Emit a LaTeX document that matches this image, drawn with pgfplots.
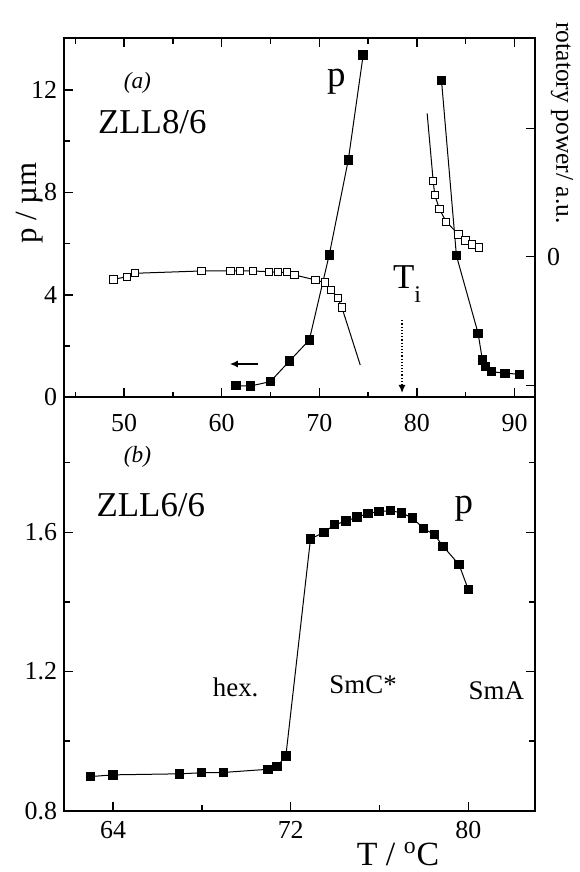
\documentclass[border=0pt]{standalone}
\usepackage{fontspec}
\setmainfont{Liberation Serif}
\usepackage{pgfplots}
\pgfplotsset{compat=1.18}
\usetikzlibrary{arrows.meta}

\begin{document}
\begin{tikzpicture}
\pgfplotsset{
  panel/.style={
    scale only axis, width=235.5bp,
    axis line style={line width=1bp},
    every tick/.style={line width=0.7bp, black},
    major tick length=4.5bp, minor tick length=2.8bp,
    tick align=inside,
    /pgf/number format/assume math mode=true,
    tick label style={font=\fontsize{13}{13}\selectfont},
    clip=false,
  },
  pf/.style={black, line width=0.5bp, mark=square*, mark size=2.1bp, mark options={solid}},
  po/.style={only marks, mark=square*, mark size=1.85bp, mark options={solid, draw=black, fill=white, line width=0.5bp}},
  pl/.style={black, line width=0.5bp, no marks},
}

% ---- (a) ZLL8/6: pitch, left axis
\begin{axis}[panel, at={(32bp,237.35bp)}, anchor=south west, height=179.65bp,
  xmin=43.85, xmax=92.1, ymin=0, ymax=14.03,
  xtick={50,60,70,80,90}, minor xtick={45,55,65,75,85},
  ytick={0,4,8,12}, minor ytick={2,6,10},
  ytick pos=left, xticklabel style={yshift=-5bp}]
\addplot[pf] coordinates {
  (61.46,0.45)(62.94,0.44)(64.98,0.61)(66.96,1.42)(68.98,2.24)
  (71.02,5.56)(72.97,9.26)(74.50,13.37)};
\addplot[pf] coordinates {
  (82.52,12.38)(84.05,5.53)(86.27,2.50)(86.71,1.46)(87.05,1.20)
  (87.64,1.00)(89.04,0.94)(90.50,0.90)};
\node[font=\fontsize{11.7}{12}\selectfont\itshape] at (axis cs:51.37,12.28) {(a)};
\node[anchor=base, font=\fontsize{17.5}{18}\selectfont] at (axis cs:52.9,10.31) {ZLL8/6};
\node[anchor=base, font=\fontsize{18.5}{19}\selectfont] at (axis cs:71.74,12.14) {p};
\node[anchor=base west, font=\fontsize{17.5}{18}\selectfont, inner sep=0pt] at (axis cs:77.53,4.26)
  {T\raisebox{-7bp}{\fontsize{12}{12}\selectfont i}};
\draw[densely dotted, line width=0.6bp, -{Latex[length=4bp,width=3.5bp]}] (axis cs:78.48,3.01) -- (axis cs:78.48,0.17);
\draw[line width=0.7bp, -{Latex[length=4bp,width=3.5bp]}] (axis cs:63.72,1.30) -- (axis cs:60.84,1.30);
\end{axis}

% ---- (a) rotatory power, right axis
\begin{axis}[panel, at={(32bp,237.35bp)}, anchor=south west, height=179.65bp,
  xmin=43.85, xmax=92.1, ymin=-1.094, ymax=1.702,
  xtick=\empty, ytick={-1,0,1}, yticklabels={{},0,{}},
  ytick pos=right, yticklabel pos=right, yticklabel style={xshift=2.5bp}]
\addplot[pl] coordinates {
  (48.92,-0.176)(50.28,-0.156)(51.10,-0.129)(57.92,-0.111)(60.89,-0.111)
  (61.91,-0.111)(63.20,-0.111)(64.84,-0.117)(65.76,-0.121)(66.70,-0.121)
  (67.47,-0.142)(69.62,-0.181)(70.57,-0.202)(71.22,-0.259)(71.90,-0.319)
  (72.31,-0.394)(74.20,-0.843)};
\addplot[po] coordinates {
  (48.92,-0.176)(50.28,-0.156)(51.10,-0.129)(57.92,-0.111)(60.89,-0.111)
  (61.91,-0.111)(63.20,-0.111)(64.84,-0.117)(65.76,-0.121)(66.70,-0.121)
  (67.47,-0.142)(69.62,-0.181)(70.57,-0.202)(71.22,-0.259)(71.90,-0.319)
  (72.31,-0.394)};
\addplot[pl] coordinates {
  (81.05,1.116)(81.67,0.589)(81.83,0.480)(82.31,0.371)(83.00,0.272)
  (84.26,0.174)(84.97,0.125)(85.66,0.096)(86.34,0.073)};
\addplot[po] coordinates {
  (81.67,0.589)(81.83,0.480)(82.31,0.371)(83.00,0.272)
  (84.26,0.174)(84.97,0.125)(85.66,0.096)(86.34,0.073)};
\end{axis}

% ---- (b) ZLL6/6
\begin{axis}[panel, at={(32bp,30.65bp)}, anchor=south west, height=206.7bp,
  xmin=61.79, xmax=83.0, ymin=0.8, ymax=1.988,
  xtick={64,72,80}, minor xtick={68,76}, xtick pos=bottom,
  ytick={0.8,1.2,1.6}, minor ytick={1.0,1.4,1.8},
  xticklabel style={yshift=-2bp}]
\addplot[pf] coordinates {
  (62.98,0.898)(64.00,0.903)(67.00,0.906)(67.98,0.909)(68.98,0.910)
  (70.98,0.919)(71.38,0.927)(71.78,0.957)(72.89,1.581)(73.49,1.600)
  (73.98,1.622)(74.48,1.632)(74.99,1.644)(75.48,1.654)(75.98,1.660)
  (76.49,1.662)(77.00,1.656)(77.48,1.641)(77.99,1.611)(78.47,1.593)
  (78.86,1.560)(79.58,1.507)(80.00,1.435)};
\node[font=\fontsize{11.7}{12}\selectfont\itshape] at (axis cs:65.1,1.818) {(b)};
\node[anchor=base, font=\fontsize{17.5}{18}\selectfont] at (axis cs:65.70,1.646) {ZLL6/6};
\node[anchor=base, font=\fontsize{18.5}{19}\selectfont] at (axis cs:79.8,1.654) {p};
\node[anchor=base, font=\fontsize{13.5}{14}\selectfont] at (axis cs:69.52,1.128) {hex.};
\node[anchor=base, font=\fontsize{13.5}{14}\selectfont] at (axis cs:75.26,1.138) {SmC*};
\node[anchor=base, font=\fontsize{13.5}{14}\selectfont] at (axis cs:81.26,1.119) {SmA};
\end{axis}

\node[rotate=90, font=\fontsize{15.5}{16}\selectfont] at (15bp,334.5bp) {p / µm};
\node[rotate=-90, font=\fontsize{12.8}{14}\selectfont] at (281bp,374.5bp) {rotatory power/ a.u.};
\node[anchor=base, font=\fontsize{17}{17}\selectfont] at (199bp,3.2bp) {T / \textsuperscript{o}C};

\pgfresetboundingbox
\useasboundingbox (0bp,0bp) rectangle (290bp,436bp);
\end{tikzpicture}
\end{document}
